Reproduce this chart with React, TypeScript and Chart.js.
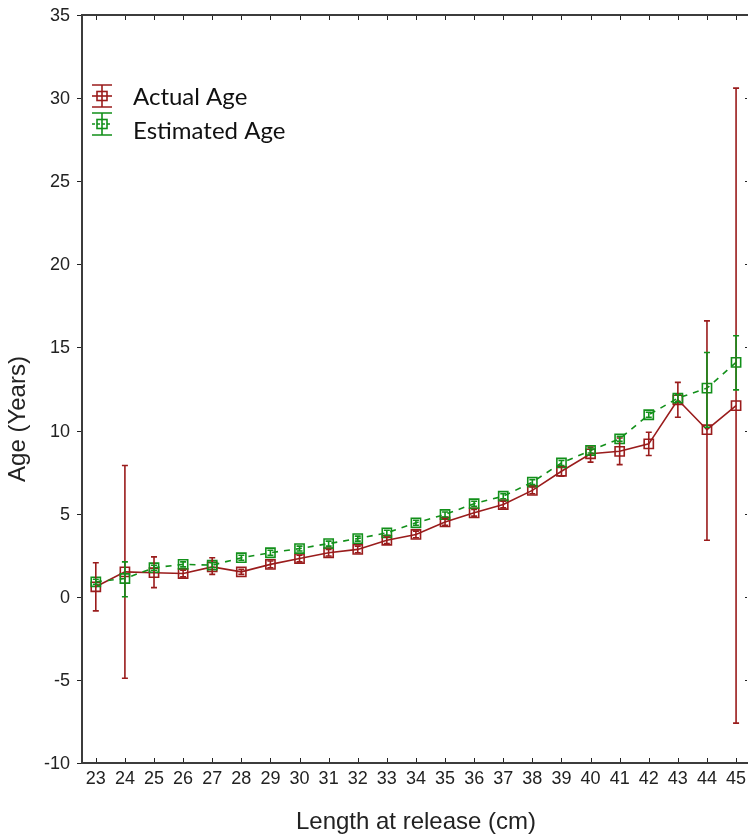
import React, { useEffect, useRef } from 'react';
import { Chart, registerables } from 'chart.js';

Chart.register(...registerables);

const lengths = [23, 24, 25, 26, 27, 28, 29, 30, 31, 32, 33, 34, 35, 36, 37, 38, 39, 40, 41, 42, 43, 44, 45];
const actualAge = [0.6, 1.5, 1.45, 1.4, 1.8, 1.5, 1.95, 2.3, 2.65, 2.85, 3.4, 3.75, 4.5, 5.05, 5.55, 6.4, 7.55, 8.6, 8.75, 9.2, 11.85, 10.05, 11.5];
const actualLow = [-0.85, -4.9, 0.55, 1.2, 1.35, 1.35, 1.75, 2.1, 2.45, 2.65, 3.2, 3.55, 4.3, 4.85, 5.35, 6.2, 7.25, 8.1, 7.95, 8.5, 10.8, 3.4, -7.6];
const actualHigh = [2.05, 7.9, 2.4, 1.6, 2.35, 1.65, 2.15, 2.5, 2.85, 3.05, 3.6, 3.95, 4.7, 5.25, 5.75, 6.6, 7.85, 9.0, 9.55, 9.9, 12.9, 16.6, 30.6];
const estimatedAge = [0.9, 1.1, 1.75, 1.95, 1.9, 2.35, 2.65, 2.9, 3.2, 3.5, 3.85, 4.45, 4.95, 5.6, 6.05, 6.9, 8.05, 8.8, 9.5, 10.95, 11.95, 12.55, 14.1];
const estimatedLow = [0.75, 0.0, 1.6, 1.8, 1.75, 2.2, 2.5, 2.75, 3.05, 3.35, 3.7, 4.3, 4.8, 5.45, 5.9, 6.75, 7.9, 8.65, 9.35, 10.8, 11.75, 10.2, 12.45];
const estimatedHigh = [1.05, 2.1, 1.9, 2.1, 2.05, 2.5, 2.8, 3.05, 3.35, 3.65, 4.0, 4.6, 5.1, 5.75, 6.2, 7.05, 8.2, 8.95, 9.65, 11.1, 12.15, 14.7, 15.7];
const yTicks = [-10, -5, 0, 5, 10, 15, 20, 25, 30, 35];
const xTicks = lengths;

const RED = '#9a1c1c';
const GREEN = '#12901a';
const AXIS = '#3c3c3c';
const FONT = "'Liberation Sans', Arial, sans-serif";
const LEGEND_FONT = "Lato, 'Open Sans', sans-serif";

const seriesBars = [
  { color: RED, low: actualLow, high: actualHigh },
  { color: GREEN, low: estimatedLow, high: estimatedHigh },
];

const errorBarPlugin = {
  id: 'errorBars',
  afterDatasetsDraw(chart: any) {
    const { ctx, scales } = chart;
    const x = scales.x;
    const y = scales.y;
    ctx.save();
    ctx.lineWidth = 1.6;
    seriesBars.forEach((s) => {
      ctx.strokeStyle = s.color;
      lengths.forEach((l, i) => {
        const px = x.getPixelForValue(l);
        const pl = y.getPixelForValue(s.low[i]);
        const ph = y.getPixelForValue(s.high[i]);
        ctx.beginPath();
        ctx.moveTo(px, pl);
        ctx.lineTo(px, ph);
        ctx.moveTo(px - 3, pl);
        ctx.lineTo(px + 3, pl);
        ctx.moveTo(px - 3, ph);
        ctx.lineTo(px + 3, ph);
        ctx.stroke();
      });
    });
    ctx.restore();
  },
};

const framePlugin = {
  id: 'frame',
  afterDraw(chart: any) {
    const { ctx, chartArea: a, scales } = chart;
    const x = scales.x;
    const y = scales.y;
    ctx.save();
    // frame
    ctx.strokeStyle = AXIS;
    ctx.lineWidth = 2;
    ctx.beginPath();
    ctx.moveTo(a.left - 1, a.top - 1);
    ctx.lineTo(a.left - 1, a.bottom + 1);
    ctx.moveTo(a.left - 2, a.top);
    ctx.lineTo(a.right, a.top);
    ctx.moveTo(a.left - 2, a.bottom);
    ctx.lineTo(a.right, a.bottom);
    ctx.stroke();
    // ticks
    ctx.lineWidth = 1;
    ctx.strokeStyle = '#222';
    ctx.beginPath();
    yTicks.forEach((v) => {
      const py = Math.round(y.getPixelForValue(v)) + 0.5;
      ctx.moveTo(a.left - 6, py);
      ctx.lineTo(a.left - 2, py);
      if (v > -10 && v < 35) {
        ctx.moveTo(a.right - 3, py);
        ctx.lineTo(a.right - 1, py);
      }
    });
    xTicks.forEach((v) => {
      const px = Math.round(x.getPixelForValue(v)) + 0.5;
      ctx.moveTo(px, a.top + 1);
      ctx.lineTo(px, a.top + 5);
      ctx.moveTo(px, a.bottom - 1);
      ctx.lineTo(px, a.bottom - 5);
    });
    ctx.stroke();

    // tick labels
    ctx.fillStyle = '#222';
    ctx.font = `18px ${FONT}`;
    ctx.textBaseline = 'middle';
    ctx.textAlign = 'right';
    yTicks.forEach((v) => {
      ctx.fillText(String(v), 70, y.getPixelForValue(v) + 1);
    });
    ctx.textAlign = 'center';
    xTicks.forEach((v) => {
      ctx.fillText(String(v), x.getPixelForValue(v), 779);
    });

    // axis titles
    ctx.font = `24px ${FONT}`;
    ctx.fillText('Length at release (cm)', 416, 822);
    ctx.save();
    ctx.translate(18, 419);
    ctx.rotate(-Math.PI / 2);
    ctx.fillText('Age (Years)', 0, 0);
    ctx.restore();

    // legend
    const items = [
      { label: 'Actual Age', color: RED, dash: [] as number[], cy: 96, ty: 97 },
      { label: 'Estimated Age', color: GREEN, dash: [3, 2], cy: 124, ty: 131 },
    ];
    items.forEach((it) => {
      const cx = 102;
      ctx.strokeStyle = it.color;
      ctx.lineWidth = 1.6;
      ctx.setLineDash([]);
      ctx.beginPath();
      ctx.moveTo(cx, it.cy - 11);
      ctx.lineTo(cx, it.cy + 11);
      ctx.moveTo(cx - 10, it.cy - 11);
      ctx.lineTo(cx + 10, it.cy - 11);
      ctx.moveTo(cx - 10, it.cy + 11);
      ctx.lineTo(cx + 10, it.cy + 11);
      ctx.stroke();
      ctx.strokeRect(cx - 5, it.cy - 4.5, 10, 9);
      ctx.setLineDash(it.dash);
      ctx.beginPath();
      ctx.moveTo(cx - 10, it.cy);
      ctx.lineTo(cx + 10, it.cy);
      ctx.stroke();
      ctx.setLineDash([]);
      ctx.fillStyle = '#111';
      ctx.font = `24px ${LEGEND_FONT}`;
      ctx.textAlign = 'left';
      ctx.textBaseline = 'middle';
      ctx.fillText(it.label, 133, it.ty);
    });
    ctx.restore();
  },
};

export default function App() {
  const canvasRef = useRef<HTMLCanvasElement | null>(null);

  useEffect(() => {
    document.body.style.margin = '0';
    const canvas = canvasRef.current;
    if (!canvas) return;
    const chart = new Chart(canvas, {
      type: 'line',
      data: {
        datasets: [
          {
            label: 'Actual Age',
            data: lengths.map((l, i) => ({ x: l, y: actualAge[i] })),
            borderColor: RED,
            borderWidth: 1.6,
            pointStyle: 'rect',
            pointRadius: 6.5,
            pointBorderWidth: 1.6,
            pointBorderColor: RED,
            pointBackgroundColor: 'rgba(0,0,0,0)',
            fill: false,
            tension: 0,
            order: 2,
          },
          {
            label: 'Estimated Age',
            data: lengths.map((l, i) => ({ x: l, y: estimatedAge[i] })),
            borderColor: GREEN,
            borderWidth: 1.6,
            borderDash: [6, 6],
            pointStyle: 'rect',
            pointRadius: 6.5,
            pointBorderWidth: 1.6,
            pointBorderColor: GREEN,
            pointBackgroundColor: 'rgba(0,0,0,0)',
            fill: false,
            tension: 0,
            order: 1,
          },
        ],
      },
      options: {
        animation: false,
        responsive: false,
        maintainAspectRatio: false,
        layout: { autoPadding: false, padding: { top: 15, left: 0, right: 0, bottom: 0 } },
        plugins: { legend: { display: false }, tooltip: { enabled: false } },
        scales: {
          x: {
            type: 'linear',
            min: 22.56,
            max: 45.41,
            afterBuildTicks: (s: any) => {
              s.ticks = xTicks.map((v) => ({ value: v }));
            },
            afterFit: (s: any) => {
              s.height = 75;
            },
            ticks: { display: false },
            grid: { display: false },
            border: { display: false },
          },
          y: {
            type: 'linear',
            min: -10,
            max: 35,
            afterBuildTicks: (s: any) => {
              s.ticks = yTicks.map((v) => ({ value: v }));
            },
            afterFit: (s: any) => {
              s.width = 83;
            },
            ticks: { display: false },
            grid: { display: false },
            border: { display: false },
          },
        },
      },
      plugins: [errorBarPlugin, framePlugin],
    } as any);
    return () => chart.destroy();
  }, []);

  return (
    <div style={{ width: 748, height: 838, position: 'relative', background: '#fff' }}>
      <canvas ref={canvasRef} width={748} height={838} style={{ display: 'block', width: 748, height: 838 }} />
    </div>
  );
}
